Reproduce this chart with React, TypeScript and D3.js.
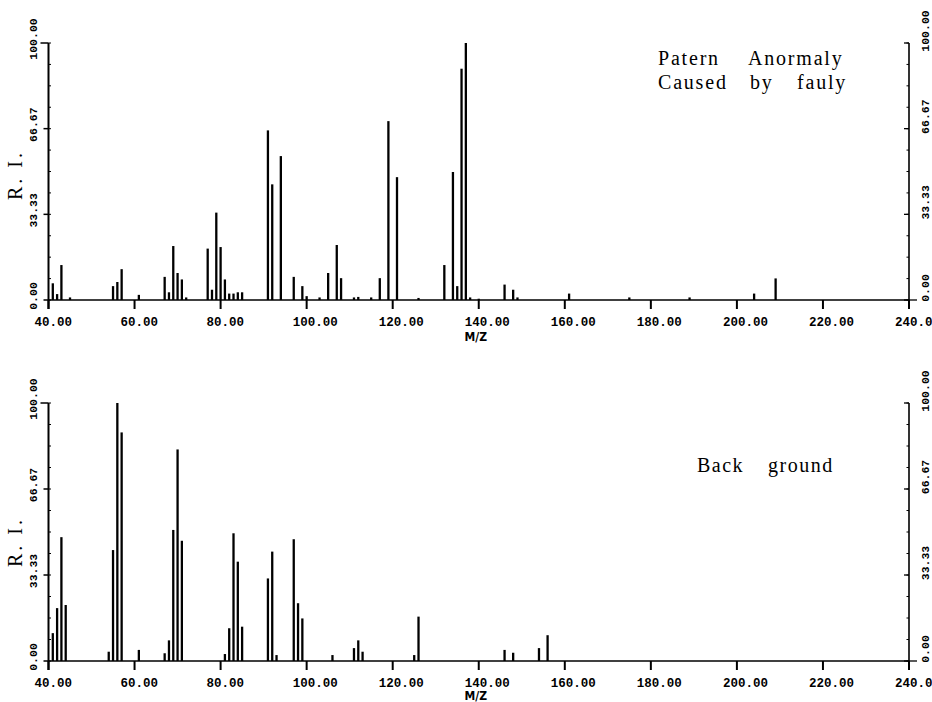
import React from "react";
import * as d3 from "d3";

const xTicks = [40, 60, 80, 100, 120, 140, 160, 180, 200, 220, 240];
const yTicks = [0, 33.33, 66.67, 100];

const topMz = [41, 42, 43, 45, 55, 56, 57, 61, 67, 68, 69, 70, 71, 72, 77, 78, 79, 80, 81, 82, 83, 84, 85, 91, 92, 94, 97, 99, 100, 103, 105, 107, 108, 111, 112, 115, 117, 119, 121, 126, 132, 134, 135, 136, 137, 138, 140, 146, 148, 149, 161, 175, 189, 204, 209];
const topRi = [6.5, 2.3, 13.6, 1, 5.4, 7, 12, 2, 9, 3, 21, 10.5, 8, 1, 20, 4, 34, 20.6, 8, 2.5, 2.5, 3, 3, 66, 45, 56, 9, 5.4, 1.5, 1, 10.5, 21.4, 8.5, 1, 1.2, 1, 8.5, 69.6, 47.8, 0.8, 13.6, 49.8, 5.4, 90, 100, 1, 0.5, 6, 4, 1, 2.5, 1, 1, 2.5, 8.4];

const bottomMz = [41, 42, 43, 44, 54, 55, 56, 57, 61, 67, 68, 69, 70, 71, 81, 82, 83, 84, 85, 91, 92, 93, 97, 98, 99, 106, 111, 112, 113, 125, 126, 146, 148, 154, 156];
const bottomRi = [10.8, 20.5, 48, 21.7, 3.6, 43, 100, 88.6, 4.3, 3, 8, 50.8, 82, 46.6, 2.7, 12.7, 49.5, 38.5, 13.3, 32, 42.4, 2.3, 47.2, 22.4, 16.5, 2.3, 5, 8, 3.6, 2.3, 17.2, 4.3, 3.2, 5, 10];

const topLabel = [["Patern", "Anormaly"], ["Caused", "by", "fauly"]];
const bottomLabel = [["Back", "ground"]];

const W = 932;
const H = 702;

const x = d3.scaleLinear().domain([40, 240]).range([48.5, 909]);

const fmt = (v: number) => v.toFixed(2);

type PanelProps = {
  mz: number[];
  ri: number[];
  y0: number;
  y1: number;
  labelBase: number;
  mzBase: number;
  riY: number;
  children?: React.ReactNode;
};

function Panel({ mz, ri, y0, y1, labelBase, mzBase, riY, children }: PanelProps) {
  const y = d3.scaleLinear().domain([0, 100]).range([y0, y1]);
  const tickFont = "'Liberation Mono', 'DejaVu Sans Mono', monospace";
  return (
    <g>
      {mz.map((m, i) => (
        <line
          key={"b" + i}
          x1={x(m)}
          x2={x(m)}
          y1={y(0)}
          y2={y(ri[i])}
          stroke="#000"
          strokeWidth={2.3}
        />
      ))}
      <line x1={x(40)} x2={x(240)} y1={y(0)} y2={y(0)} stroke="#000" strokeWidth={1.6} />
      <line x1={x(40)} x2={x(40)} y1={y(0) + 9} y2={y(100)} stroke="#000" strokeWidth={2} />
      <line x1={x(240)} x2={x(240)} y1={y(0) + 9} y2={y(100)} stroke="#000" strokeWidth={1.6} />
      {yTicks.map((t) => (
        <g key={"yt" + t}>
          <line x1={x(40) - (t === 100 ? 8 : 5)} x2={x(40)} y1={y(t)} y2={y(t)} stroke="#000" strokeWidth={1.5} />
          <line x1={x(240) - 5} x2={x(240) + (t === 0 ? 8 : 0)} y1={y(t)} y2={y(t)} stroke="#000" strokeWidth={1.3} />
          <text
            transform={`translate(37,${y(t) - 4}) rotate(-90)`}
            textAnchor="middle"
            fontFamily={tickFont}
            fontWeight="bold"
            fontSize={11.5}
            fill="#000"
          >
            {fmt(t)}
          </text>
          <text
            transform={`translate(929,${y(t) - 12}) rotate(-90)`}
            textAnchor="middle"
            fontFamily={tickFont}
            fontWeight="bold"
            fontSize={11.5}
            fill="#000"
          >
            {fmt(t)}
          </text>
        </g>
      ))}
      {d3.range(0, 100.01, 8.333).map((t, i) => (
        <g key={"mt" + i}>
          <line x1={x(40)} x2={x(40) + 2.5} y1={y(t)} y2={y(t)} stroke="#000" strokeWidth={1} />
          <line x1={x(240) - 2.5} x2={x(240)} y1={y(t)} y2={y(t)} stroke="#000" strokeWidth={1} />
        </g>
      ))}
      {xTicks.map((t) => (
        <g key={"xt" + t}>
          <line x1={x(t)} x2={x(t)} y1={y(0)} y2={y(0) + 9} stroke="#000" strokeWidth={2} />
          <text
            x={x(t) - 14}
            y={labelBase}
            fontFamily={tickFont}
            fontWeight="bold"
            fontSize={12.5}
            fill="#000"
          >
            {fmt(t)}
          </text>
        </g>
      ))}
      <text
        x={x(140) - 3}
        y={mzBase}
        textAnchor="middle"
        fontFamily="'Liberation Sans Narrow', 'DejaVu Sans Condensed', sans-serif"
        fontSize={12}
        fontWeight="bold"
        fill="#000"
      >
        M/Z
      </text>
      <text
        transform={`translate(22,${riY}) rotate(-90)`}
        textAnchor="middle"
        fontFamily="'Liberation Serif', serif"
        fontSize={20}
        fill="#000"
        letterSpacing={3}
      >
        R. I.
      </text>
      {children}
    </g>
  );
}

const serif = "'Liberation Serif', 'DejaVu Serif', serif";

export default function App() {
  const topWordX = [[658, 748], [658, 750, 797]];
  const botWordX = [[697, 768]];
  return (
    <svg
      width={W}
      height={H}
      style={{ position: "absolute", left: 0, top: 0, background: "#fff" }}
      viewBox={`0 0 ${W} ${H}`}
    >
      <rect x={0} y={0} width={W} height={H} fill="#fff" />
      <Panel mz={topMz} ri={topRi} y0={300} y1={43} labelBase={326} mzBase={341} riY={175}>
        {topLabel.map((line, li) =>
          line.map((w, wi) => (
            <text
              key={`t${li}-${wi}`}
              x={topWordX[li][wi]}
              y={65 + li * 24}
              fontFamily={serif}
              fontSize={20}
              letterSpacing={1.8}
              fill="#000"
            >
              {w}
            </text>
          ))
        )}
      </Panel>
      <Panel mz={bottomMz} ri={bottomRi} y0={661} y1={403} labelBase={687} mzBase={700} riY={542}>
        {bottomLabel.map((line, li) =>
          line.map((w, wi) => (
            <text
              key={`b${li}-${wi}`}
              x={botWordX[li][wi]}
              y={472}
              fontFamily={serif}
              fontSize={20}
              letterSpacing={1.5}
              fill="#000"
            >
              {w}
            </text>
          ))
        )}
      </Panel>
    </svg>
  );
}
